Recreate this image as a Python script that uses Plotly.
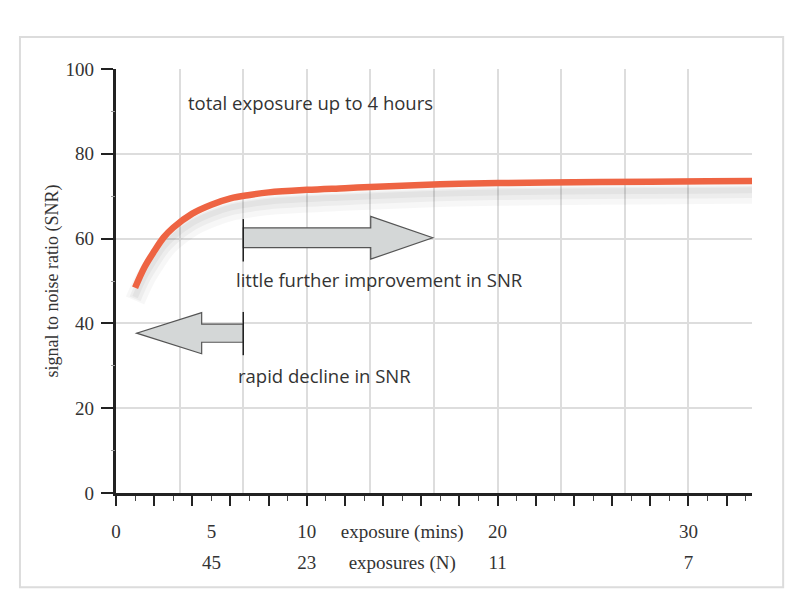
import plotly.graph_objects as go

# SNR curve (exposure length in minutes -> SNR)
minutes = [1, 1.5, 2, 2.5, 3, 4, 5, 6, 7, 8, 10, 12, 14, 17, 20, 24, 28, 31, 33.4]
snr = [48.4, 53.3, 57.0, 60.3, 62.6, 65.9, 68.0, 69.5, 70.3, 70.9, 71.5, 71.9,
       72.3, 72.8, 73.1, 73.3, 73.4, 73.5, 73.6]

# bottom label rows
mins_ticks = [0, 5, 10, 15, 20, 30]
mins_text = ["0", "5", "10", "exposure (mins)", "20", "30"]
n_ticks = [5, 10, 15, 20, 30]
n_text = ["45", "23", "exposures (N)", "11", "7"]

x_max = 100 / 3
serif = "Liberation Serif"
sans = "Open Sans"
ink = "#333333"

fig = go.Figure()

# soft drop shadow under the curve
for off, w, op in [(3.0, 20, 0.03), (2.6, 12, 0.04), (2.2, 6, 0.04)]:
    fig.add_trace(go.Scatter(
        x=minutes, y=[v - off for v in snr], mode="lines",
        line=dict(color=f"rgba(0,0,0,{op})", width=w, shape="spline"),
        hoverinfo="skip", showlegend=False))

fig.add_trace(go.Scatter(
    x=minutes, y=snr, mode="lines",
    line=dict(color="#ee6443", width=6.5, shape="spline"),
    showlegend=False))


def arrow_path(x_base, x_neck, x_tip, y_mid, shaft_h, head_h):
    # block arrow pointing from x_base to x_tip
    s, h = shaft_h / 2, head_h / 2
    pts = [(x_base, y_mid + s), (x_neck, y_mid + s), (x_neck, y_mid + h),
           (x_tip, y_mid), (x_neck, y_mid - h), (x_neck, y_mid - s),
           (x_base, y_mid - s)]
    return "M " + " L ".join(f"{a},{b}" for a, b in pts) + " Z"


arrows = [
    dict(base=6.67, neck=13.35, tip=16.6, mid=60.2, shaft=4.7, head=10.1, bar=(54.6, 64.6)),
    dict(base=6.67, neck=4.49, tip=1.08, mid=37.7, shaft=4.3, head=9.7, bar=(32.5, 42.7)),
]
for a in arrows:
    fig.add_shape(type="path", xref="x", yref="y",
                  path=arrow_path(a["base"], a["neck"], a["tip"], a["mid"], a["shaft"], a["head"]),
                  fillcolor="#d4d7d7", line=dict(color="#555555", width=1.2))
    fig.add_shape(type="line", xref="x", yref="y", x0=a["base"], x1=a["base"],
                  y0=a["bar"][0], y1=a["bar"][1], line=dict(color="#222222", width=1.5))

# outer frame
fig.add_shape(type="rect", xref="paper", yref="paper", x0=-0.151, x1=1.049,
              y0=-0.222, y1=1.0755, line=dict(color="#dcdcdc", width=2), layer="below")

notes = [
    (3.65, 92.2, "total exposure up to 4 hours"),
    (6.2, 50.4, "little further improvement in SNR"),
    (6.3, 27.6, "rapid decline in SNR"),
]
for x, y, t in notes:
    fig.add_annotation(x=x, y=y, text=t, showarrow=False, xanchor="left",
                       font=dict(family=sans, size=18.5, color=ink))

fig.update_layout(
    width=800, height=606,
    margin=dict(l=108, r=56, t=61, b=121),
    paper_bgcolor="white", plot_bgcolor="white",
    showlegend=False,
    # grid lines every 10/3 min
    xaxis=dict(range=[0, x_max], tick0=0, dtick=x_max / 10, showgrid=True,
               gridcolor="#dddddd", gridwidth=1.5, ticks="", showticklabels=False,
               showline=False, zeroline=False),
    # tick marks on the axis line
    xaxis2=dict(overlaying="x", matches="x", anchor="y", tick0=0, dtick=2,
                ticks="outside", ticklen=10, tickwidth=1.5, tickcolor="#222222",
                minor=dict(dtick=1, ticks="outside", ticklen=5, tickwidth=1.2,
                           tickcolor="#444444", showgrid=False),
                showgrid=False, showticklabels=False, showline=True,
                linecolor="#222222", linewidth=2.5, zeroline=False),
    xaxis3=dict(overlaying="x", matches="x", anchor="y", tickmode="array",
                tickvals=mins_ticks, ticktext=mins_text, ticks="", showgrid=False,
                showline=False, zeroline=False, ticklabelstandoff=25,
                tickfont=dict(family=serif, size=19, color=ink)),
    xaxis4=dict(overlaying="x", matches="x", anchor="y", tickmode="array",
                tickvals=n_ticks, ticktext=n_text, ticks="", showgrid=False,
                showline=False, zeroline=False, ticklabelstandoff=56,
                tickfont=dict(family=serif, size=19, color=ink)),
    # y: grid, line and major ticks
    yaxis=dict(range=[0, 100], tick0=0, dtick=20, ticks="outside", ticklen=12,
               tickwidth=1.5, tickcolor="#222222", showticklabels=False,
               showgrid=True, gridcolor="#dddddd", gridwidth=1.5,
               showline=True, linecolor="#222222", linewidth=2.5, zeroline=False),
    # y: faint half-step ticks
    yaxis2=dict(overlaying="y", matches="y", anchor="x", side="left", tick0=10,
                dtick=20, ticks="outside", ticklen=4, tickwidth=1.2,
                tickcolor="#999999", showticklabels=False, showgrid=False,
                showline=False, zeroline=False),
    # y: labels and title
    yaxis3=dict(overlaying="y", matches="y", anchor="x", side="left", tick0=0,
                dtick=20, ticks="", ticklabelstandoff=21, showgrid=False,
                showline=False, zeroline=False,
                tickfont=dict(family=serif, size=19, color=ink),
                title=dict(text="signal to noise ratio (SNR)", standoff=2,
                           font=dict(family=serif, size=18, color=ink))),
)

# dummy traces so the overlay axes get drawn
for xa, ya in [("x2", "y"), ("x3", "y"), ("x4", "y"), ("x", "y2"), ("x", "y3")]:
    fig.add_trace(go.Scatter(x=[None], y=[None], xaxis=xa, yaxis=ya,
                             showlegend=False, hoverinfo="skip"))

fig.write_html("out.html")
